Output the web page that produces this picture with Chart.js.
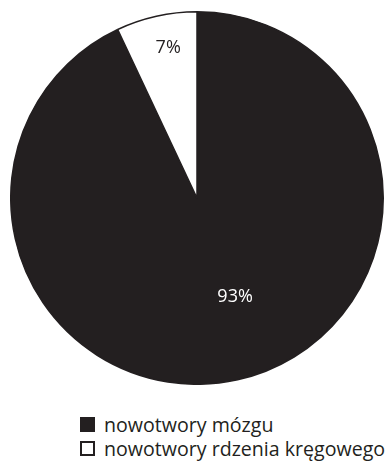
<!DOCTYPE html>
<html>
<head>
<meta charset="utf-8">
<script src="https://cdn.jsdelivr.net/npm/chart.js@4"></script>
<style>
  html, body { margin: 0; padding: 0; background: #fff; }
  body { width: 386px; height: 466px; position: relative; overflow: hidden; }
  #wrap { position: absolute; left: 10px; top: 11px; width: 374px; height: 374px; }
  #legend { position: absolute; left: 80px; top: 412px; font-family: "Open Sans", sans-serif; font-size: 19.6px; color: #231f20; white-space: nowrap; }
  .item { display: flex; align-items: center; height: 24px; }
  .box { width: 15px; height: 15px; box-sizing: border-box; border: 2px solid #231f20; margin-right: 9px; }
</style>
</head>
<body>
<div id="wrap"><canvas id="pieChart"></canvas></div>
<div id="legend"></div>
<script>
// Data
const categories = ["nowotwory mózgu", "nowotwory rdzenia kręgowego"];
const shares = [93, 7];
const sliceColors = ["#231f20", "#ffffff"];
const labelColors = ["#ffffff", "#231f20"];
const labelRadius = [0.57, 0.82];
const labelAngleShift = [-0.147, 0.03];

// percentage labels inside slices
const pctLabels = {
  id: "pctLabels",
  afterDatasetsDraw(chart) {
    const ctx = chart.ctx;
    chart.getDatasetMeta(0).data.forEach((arc, i) => {
      const mid = (arc.startAngle + arc.endAngle) / 2 + labelAngleShift[i];
      const r = arc.outerRadius * labelRadius[i];
      ctx.save();
      ctx.font = "18px 'Open Sans', sans-serif";
      ctx.fillStyle = labelColors[i];
      ctx.textAlign = "center";
      ctx.textBaseline = "middle";
      ctx.fillText(shares[i] + "%", arc.x + Math.cos(mid) * r, arc.y + Math.sin(mid) * r);
      ctx.restore();
    });
  }
};

new Chart(document.getElementById("pieChart"), {
  type: "pie",
  data: {
    labels: categories,
    datasets: [{
      data: shares,
      backgroundColor: sliceColors,
      borderColor: "#231f20",
      borderWidth: 1.5
    }]
  },
  options: {
    responsive: true,
    maintainAspectRatio: false,
    animation: false,
    layout: { padding: 0 },
    plugins: {
      legend: { display: false },
      tooltip: { enabled: false }
    }
  },
  plugins: [pctLabels]
});

// HTML legend
const legend = document.getElementById("legend");
categories.forEach((name, i) => {
  const row = document.createElement("div");
  row.className = "item";
  const box = document.createElement("span");
  box.className = "box";
  box.style.background = sliceColors[i];
  row.appendChild(box);
  row.appendChild(document.createTextNode(name));
  legend.appendChild(row);
});
</script>
</body>
</html>
